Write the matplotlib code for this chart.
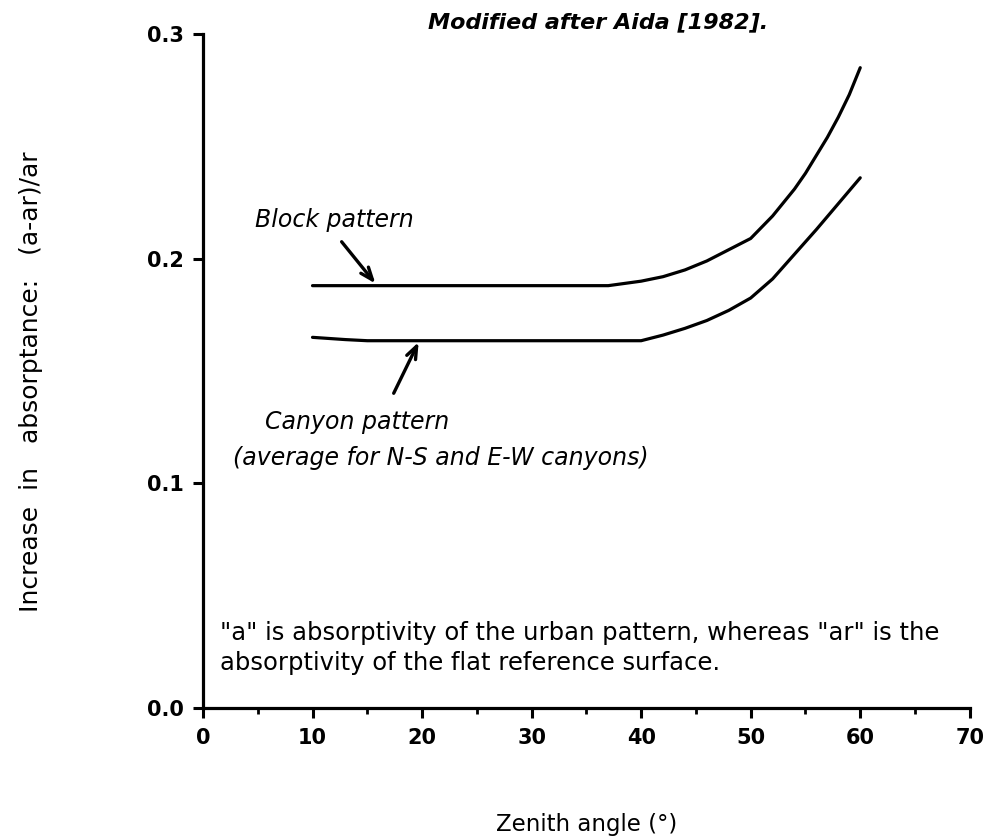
import matplotlib
matplotlib.use('Agg')
import matplotlib.pyplot as plt

plt.rcParams['font.family'] = ['DejaVu Sans']

# curves
block_x = [10, 15, 20, 25, 30, 35, 37, 40, 42, 44, 46, 48, 50, 52, 54, 55, 56, 57,
           58, 59, 60]
block_y = [0.188, 0.188, 0.188, 0.188, 0.188, 0.188, 0.188, 0.190, 0.192, 0.195,
           0.199, 0.204, 0.209, 0.219, 0.231, 0.238, 0.246, 0.254, 0.263, 0.273,
           0.285]
canyon_x = [10, 13, 15, 20, 25, 30, 35, 40, 42, 44, 46, 48, 50, 52, 54, 56, 58, 60]
canyon_y = [0.165, 0.164, 0.1635, 0.1635, 0.1635, 0.1635, 0.1635, 0.1635, 0.166,
            0.169, 0.1725, 0.177, 0.1825, 0.191, 0.202, 0.213, 0.2245, 0.236]

x_ticks = [0, 10, 20, 30, 40, 50, 60, 70]
y_ticks = [0.0, 0.1, 0.2, 0.3]

fig = plt.figure(figsize=(9.92, 8.39), dpi=100)
ax = fig.add_axes([0.2046, 0.156, 0.773, 0.8035])

ax.plot(block_x, block_y, color='black', lw=2.3, solid_capstyle='round')
ax.plot(canyon_x, canyon_y, color='black', lw=2.3, solid_capstyle='round')

ax.set_xlim(0, 70)
ax.set_ylim(0, 0.3)
ax.set_xticks(x_ticks)
ax.set_xticks(range(5, 70, 10), minor=True)
ax.set_yticks(y_ticks)
ax.set_yticklabels(['%.1f' % v for v in y_ticks])
for s in ['top', 'right']:
    ax.spines[s].set_visible(False)
for s in ['left', 'bottom']:
    ax.spines[s].set_linewidth(2.3)
ax.tick_params(which='major', length=7, width=2.2, labelsize=15, pad=7)
ax.tick_params(which='minor', length=4.5, width=2.0)
for lab in ax.get_xticklabels() + ax.get_yticklabels():
    lab.set_fontweight('bold')

ax.set_xlabel('Zenith angle (°)', fontsize=16.5)
ax.xaxis.set_label_coords(0.5, -0.155)
ax.set_ylabel('Increase  in   absorptance:   (a-ar)/ar', fontsize=18)
ax.yaxis.set_label_coords(-0.208, 0.484)

ax.text(20.5, 0.3053, 'Modified after Aida [1982].', ha='left', va='center',
        fontsize=16, style='italic', fontweight='bold')

arrow = dict(arrowstyle='->,head_length=0.9,head_width=0.35', lw=2.4, color='black')
ax.annotate('', xy=(15.9, 0.188), xytext=(12.5, 0.2085), arrowprops=arrow)
ax.annotate('', xy=(19.8, 0.164), xytext=(17.3, 0.139), arrowprops=arrow)

ax.text(4.75, 0.2172, 'Block pattern', fontsize=17, style='italic', va='center')
ax.text(5.66, 0.1273, 'Canyon pattern', fontsize=17, style='italic', va='center')
ax.text(2.74, 0.1113, '(average for N-S and E-W canyons)', fontsize=17,
        style='italic', va='center')

ax.text(1.6, 0.0334, '"a" is absorptivity of the urban pattern, whereas "ar" is the',
        fontsize=17.5, va='center')
ax.text(1.6, 0.020, 'absorptivity of the flat reference surface.',
        fontsize=17.5, va='center')

fig.savefig('out.png', dpi=100)
